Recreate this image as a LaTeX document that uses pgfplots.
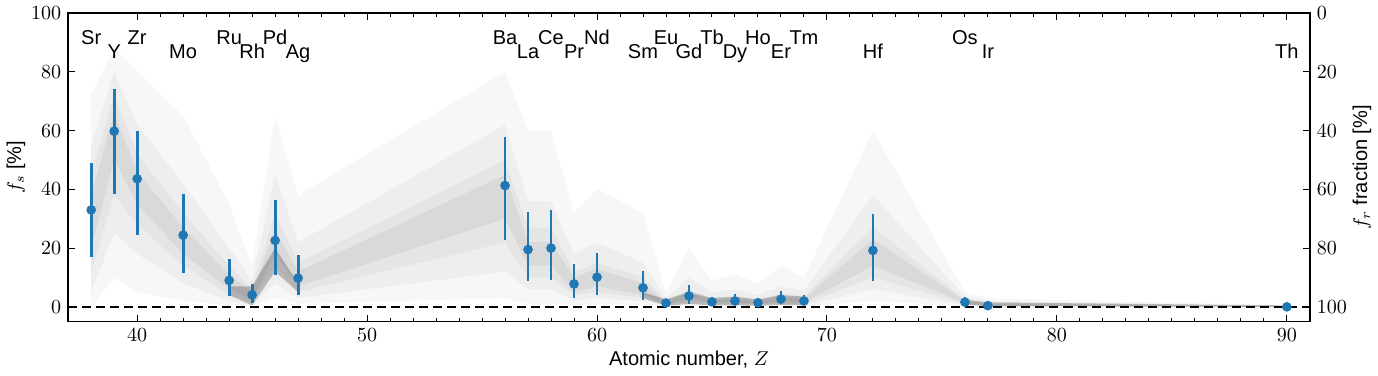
\documentclass[border=0pt]{standalone}
\usepackage{fontspec}
\setmainfont{Liberation Sans}
\usepackage{pgfplots}
\usepackage{pgfplotstable}
\pgfplotsset{compat=1.18}
\usepgfplotslibrary{fillbetween}
\definecolor{mplblue}{HTML}{1F77B4}

% Z, f_s, error plus/minus
\pgfplotstableread{
Z  fs   ep   em
38 33.0 16.0 16.0
39 59.8 14.5 21.5
40 43.6 16.4 19.2
42 24.4 14.0 12.8
44 9.0  7.2  5.3
45 4.1  3.7  2.7
46 22.6 13.8 11.9
47 9.8  7.8  5.8
56 41.3 16.5 18.7
57 19.5 12.8 10.7
58 20.0 12.9 10.9
59 7.8  6.8  4.7
60 10.1 8.3  5.9
62 6.5  5.7  4.2
63 1.3  0.5  0.5
64 3.7  3.9  2.6
65 1.7  1.4  1.1
66 2.0  2.5  1.5
67 1.4  1.4  1.0
68 2.6  2.8  1.7
69 2.0  2.2  1.4
72 19.2 12.5 10.5
76 1.6  1.8  1.0
77 0.4  0.3  0.3
90 0.0  0.0  0.0
}\data

% grey spread of the sampled curves: nested bands (outer -> core)
\pgfplotstableread{
Z  l1  u1  l2  u2  l3  u3  l4  u4
38 0   72  5   55  12  45  20  38
39 10  88  25  80  38  72  50  66
40 5   80  18  62  28  52  35  46
42 2   65  8   42  14  32  18  27
44 0.5 35  2   20  4   14  6   11
45 0   14  0.5 9   1.5 6   2.5 5
46 3   65  8   45  14  32  18  26
47 1   38  3   22  5   15  7   12
56 3   80  12  62  22  50  30  45
57 1   60  6   36  10  27  14  22
58 1   60  6   36  10  27  14  22
59 0.5 32  2   18  4   12  5   10
60 1   40  3   22  5   15  7   13
62 0.5 32  2   15  3   10  4   8
63 0   5   0.5 3   0.8 2   1   1.6
64 0.3 20  1   10  2   6   3   5
65 0.1 9   0.5 5   1   3   1.3 2.3
66 0.1 11  0.5 6   1   3.5 1.5 2.8
67 0.1 8   0.4 4   0.8 2.5 1   2
68 0.2 14  0.6 7   1.2 4.5 2   3.5
69 0.1 10  0.5 5.5 1   3.5 1.5 2.8
72 2   60  6   38  10  27  14  23
76 0.2 5   0.6 3.5 1   2.5 1.3 2
77 0.1 3   0.2 2   0.3 1.5 0.4 1
90 0   0.5 0   0.3 0   0.2 0   0.1
}\spread

% where the curves bunch together (darker)
\pgfplotstableread{
Z  lo  hi
44 4   7
45 0.5 7
46 12  20
47 5   8
}\denseA
\pgfplotstableread{
Z  lo  hi
62 3   5
63 0.3 2.5
64 1   5
65 0.5 3
66 0.5 3.5
67 0.4 2.5
68 0.7 4
69 0.5 3.5
}\denseB
\pgfplotstableread{
Z  lo  hi
76 0.8 2.5
77 0.2 1.5
90 0   0.5
}\denseC

\begin{document}
\begin{tikzpicture}
\begin{axis}[
  scale only axis, width=620pt, height=154pt,
  xmin=37, xmax=91, ymin=-5, ymax=100,
  xtick={40,50,60,70,80,90}, minor x tick num=9,
  ytick={0,20,40,60,80,100},
  ytick pos=left, xtick pos=both,
  tick align=inside,
  major tick length=3.5pt, minor tick length=2pt,
  axis line style={line width=0.8pt},
  every tick/.style={black, line width=0.5pt},
  xlabel={Atomic number, $Z$},
  ylabel={$f_s$ [\%]},
  xlabel style={yshift=2pt},
  ylabel style={yshift=-4pt},
  clip=true,
]
\foreach \k in {1,...,4}{
  \edef\tmp{
    \noexpand\addplot[draw=none, name path=l\k] table[x=Z, y=l\k] {\noexpand\spread};
    \noexpand\addplot[draw=none, name path=u\k] table[x=Z, y=u\k] {\noexpand\spread};
  }\tmp
}
\addplot[fill=black, fill opacity=0.03, draw=none] fill between[of=u1 and l1];
\addplot[fill=black, fill opacity=0.035, draw=none] fill between[of=u2 and l2];
\addplot[fill=black, fill opacity=0.04, draw=none] fill between[of=u3 and l3];
\addplot[fill=black, fill opacity=0.05, draw=none] fill between[of=u4 and l4];

\addplot[draw=none, name path=dlA] table[x=Z, y=lo] {\denseA};
\addplot[draw=none, name path=dhA] table[x=Z, y=hi] {\denseA};
\addplot[fill=black, fill opacity=0.22, draw=none] fill between[of=dhA and dlA];
\addplot[draw=none, name path=dlB] table[x=Z, y=lo] {\denseB};
\addplot[draw=none, name path=dhB] table[x=Z, y=hi] {\denseB};
\addplot[fill=black, fill opacity=0.22, draw=none] fill between[of=dhB and dlB];
\addplot[draw=none, name path=dlC] table[x=Z, y=lo] {\denseC};
\addplot[draw=none, name path=dhC] table[x=Z, y=hi] {\denseC};
\addplot[fill=black, fill opacity=0.22, draw=none] fill between[of=dhC and dlC];

\addplot[black, line width=1.2pt, dash pattern=on 4.5pt off 2.5pt] coordinates {(37,0) (91,0)};

\addplot[only marks, mark=*, mark size=2.2pt, color=mplblue,
  error bars/.cd, y dir=both, y explicit, error mark=none,
  error bar style={line width=1.4pt, mplblue}]
  table[x=Z, y=fs, y error plus=ep, y error minus=em] {\data};

\foreach \z/\yy/\lab in {38/89.2/Sr, 39/84.5/Y, 40/89.2/Zr, 42/84.5/Mo,
  44/89.2/Ru, 45/84.5/Rh, 46/89.2/Pd, 47/84.5/Ag,
  56/89.2/Ba, 57/84.5/La, 58/89.2/Ce, 59/84.5/Pr, 60/89.2/Nd,
  62/84.5/Sm, 63/89.2/Eu, 64/84.5/Gd, 65/89.2/Tb, 66/84.5/Dy,
  67/89.2/Ho, 68/84.5/Er, 69/89.2/Tm, 72/84.5/Hf, 76/89.2/Os,
  77/84.5/Ir, 90/84.5/Th}{
  \edef\tmp{\noexpand\node[anchor=base] at (axis cs:\z,\yy) {\lab};}
  \tmp
}
\end{axis}
\begin{axis}[
  scale only axis, width=620pt, height=154pt,
  xmin=37, xmax=91, ymin=0, ymax=105, y dir=reverse,
  hide x axis, axis y line*=right,
  ytick={0,20,40,60,80,100},
  tick align=inside, major tick length=3.5pt,
  axis line style={line width=0.8pt},
  every tick/.style={black, line width=0.5pt},
  ylabel={$f_r$ fraction [\%]},
  ylabel style={yshift=4pt},
]
\end{axis}
\end{tikzpicture}
\end{document}
